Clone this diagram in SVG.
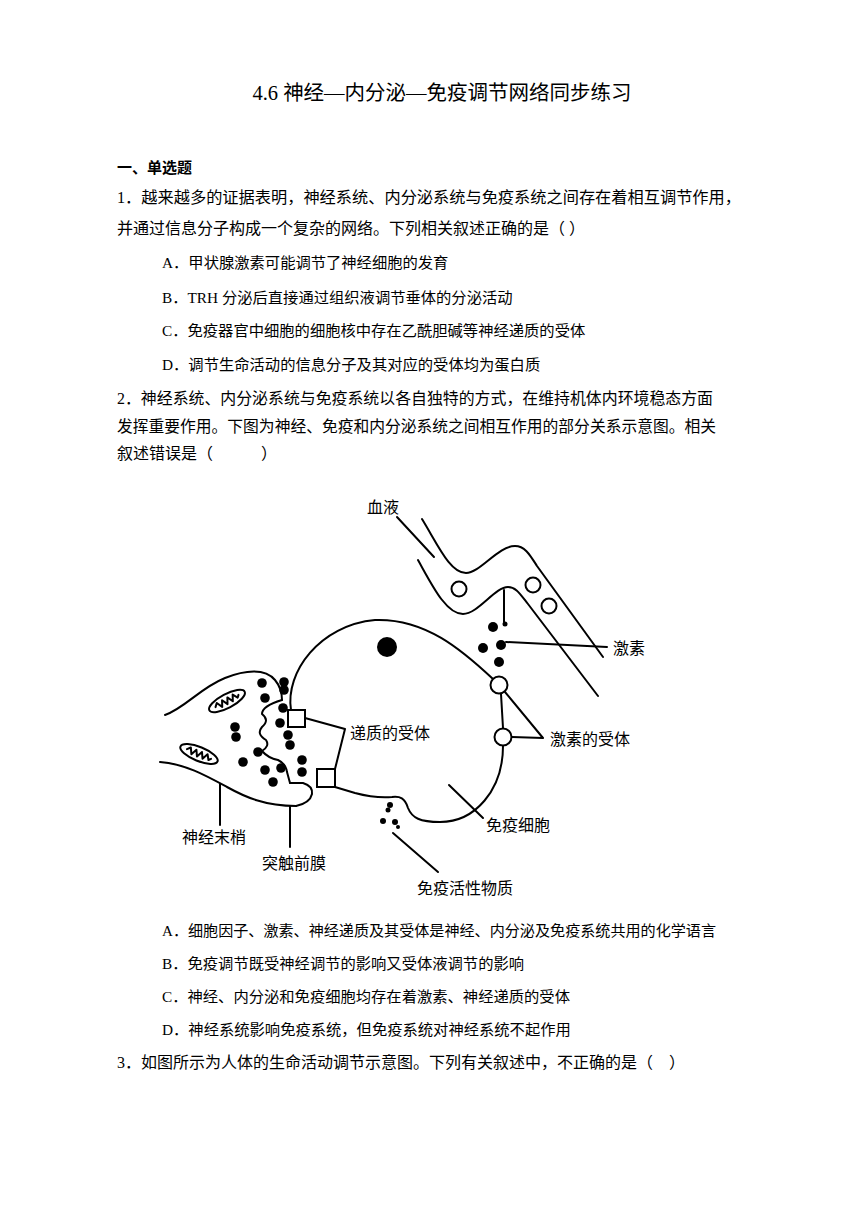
<svg xmlns="http://www.w3.org/2000/svg" width="860" height="1216" viewBox="0 0 860 1216">
<style>
.t{font-family:"Liberation Serif","Noto Sans CJK SC",serif;font-size:16px;fill:#000}
.o{font-family:"Liberation Serif","Noto Sans CJK SC",serif;font-size:15.3px;fill:#000}
.h{font-family:"Noto Sans CJK SC",sans-serif;font-size:15px;font-weight:bold;fill:#000}
.ttl{font-family:"Liberation Serif","Noto Sans CJK SC",serif;font-size:20.5px;fill:#000}
.lb{font-family:"Noto Sans CJK SC",sans-serif;font-size:16px;fill:#000}
.ln{fill:none;stroke:#000;stroke-width:2;stroke-linecap:round;stroke-linejoin:round}
.rc{fill:#fff;stroke:#000;stroke-width:2}
.dt{fill:#000}
</style>
<rect width="860" height="1216" fill="#fff"/>
<g id="text">
<text class="ttl" x="442" y="100" text-anchor="middle">4.6 神经—内分泌—免疫调节网络同步练习</text>
<text class="h" x="117" y="172.5">一、单选题</text>
<text class="t" x="117" y="203" textLength="624" lengthAdjust="spacingAndGlyphs">1．越来越多的证据表明，神经系统、内分泌系统与免疫系统之间存在着相互调节作用，</text>
<text class="t" x="117" y="234">并通过信息分子构成一个复杂的网络。下列相关叙述正确的是（ ）</text>
<text class="o" x="162" y="268">A．甲状腺激素可能调节了神经细胞的发育</text>
<text class="o" x="162" y="302.5">B．TRH 分泌后直接通过组织液调节垂体的分泌活动</text>
<text class="o" x="162" y="336">C．免疫器官中细胞的细胞核中存在乙酰胆碱等神经递质的受体</text>
<text class="o" x="162" y="370">D．调节生命活动的信息分子及其对应的受体均为蛋白质</text>
<text class="t" x="117" y="403.5" textLength="596" lengthAdjust="spacingAndGlyphs">2．神经系统、内分泌系统与免疫系统以各自独特的方式，在维持机体内环境稳态方面</text>
<text class="t" x="117" y="432" textLength="599" lengthAdjust="spacingAndGlyphs">发挥重要作用。下图为神经、免疫和内分泌系统之间相互作用的部分关系示意图。相关</text>
<text class="t" x="117" y="459">叙述错误是（　　　）</text>
<text class="o" x="162" y="935.5" textLength="554" lengthAdjust="spacingAndGlyphs">A．细胞因子、激素、神经递质及其受体是神经、内分泌及免疫系统共用的化学语言</text>
<text class="o" x="162" y="968.5">B．免疫调节既受神经调节的影响又受体液调节的影响</text>
<text class="o" x="162" y="1001.5">C．神经、内分泌和免疫细胞均存在着激素、神经递质的受体</text>
<text class="o" x="162" y="1034.5">D．神经系统影响免疫系统，但免疫系统对神经系统不起作用</text>
<text class="t" x="117" y="1067.5">3．如图所示为人体的生命活动调节示意图。下列有关叙述中，不正确的是（　）</text>
</g>
<g id="blood-vessel">
<path class="ln" d="M422,519 C438,545 450,573 466,573 C480,573 498,546 515,546 C525,546 530,555 537,566 L603,657"/>
<path class="ln" d="M418,560 C432,585 446,614 463,614 C478,614 495,587 508,587 C516,587 520,594 528,604 L598,696"/>
<circle class="rc" cx="459" cy="589" r="7.5"/>
<circle class="rc" cx="533" cy="585" r="7.5"/>
<circle class="rc" cx="549" cy="606" r="7.5"/>
<path class="ln" d="M504,590 L504,622"/>
<circle class="dt" cx="505" cy="624" r="2.5"/>
</g>
<g id="hormone">
<circle class="dt" cx="493" cy="627" r="5"/>
<circle class="dt" cx="483" cy="648" r="5"/>
<circle class="dt" cx="501" cy="645" r="5"/>
<circle class="dt" cx="499" cy="662" r="5"/>
</g>
<g id="immune-cell">
<path class="ln" d="M291,710 C285,672 320,625 375,620 C425,618 462,650 493,679"/>
<path class="ln" d="M501,694 L503,728"/>
<path class="ln" d="M503,746 C503,790 475,822 440,822 C420,822 412,818 408,808 C405,798 400,796 392,797 C380,798 370,797 355,793 L335,787"/>
<circle class="dt" cx="387" cy="647" r="10"/>
<circle class="rc" cx="499" cy="685" r="8.5"/>
<circle class="rc" cx="503" cy="737" r="8.5"/>
<rect class="rc" x="288" y="710" width="17" height="17"/>
<rect class="rc" x="317" y="769" width="18" height="18"/>
</g>
<g id="immune-substance">
<circle class="dt" cx="390" cy="805" r="3"/>
<circle class="dt" cx="388" cy="810" r="2.5"/>
<circle class="dt" cx="383" cy="821" r="3"/>
<circle class="dt" cx="395" cy="822" r="3"/>
<circle class="dt" cx="398" cy="827" r="2"/>
</g>
<g id="nerve-terminal">
<path class="ln" d="M165,715 C185,708 200,688 225,678 C245,670 265,668 275,680 C280,686 282,693 282,700"/>
<path class="ln" d="M282,700 Q262,706 262,714 Q270,720 262,727 Q256,734 266,740 Q270,746 262,751 Q268,758 278,760 Q286,764 287,772 L290,783"/>
<path class="ln" d="M290,783 L303,783 Q313,786 312,794 Q310,803 296,806"/>
<path class="ln" d="M160,762 C185,764 205,775 227,787 C245,797 265,806 296,806"/>
<g transform="translate(227,701) rotate(-28)">
<ellipse class="rc" cx="0" cy="0" rx="20" ry="7"/>
<polyline class="ln" stroke-width="1.6" points="-13,0 -10,-3 -7,3 -4,-3 -1,3 2,-3 5,3 8,-3 11,2 13,0"/>
</g>
<g transform="translate(199,754) rotate(22)">
<ellipse class="rc" cx="0" cy="0" rx="20" ry="7"/>
<polyline class="ln" stroke-width="1.6" points="-13,0 -10,-3 -7,3 -4,-3 -1,3 2,-3 5,3 8,-3 11,2 13,0"/>
</g>
<circle class="dt" cx="262" cy="683" r="4.8"/>
<circle class="dt" cx="265" cy="698" r="4.8"/>
<circle class="dt" cx="284" cy="682" r="4.8"/>
<circle class="dt" cx="284" cy="690" r="4.8"/>
<circle class="dt" cx="283" cy="708" r="4.8"/>
<circle class="dt" cx="280" cy="723" r="4.8"/>
<circle class="dt" cx="288" cy="735" r="4.8"/>
<circle class="dt" cx="290" cy="745" r="4.8"/>
<circle class="dt" cx="235" cy="727" r="4.8"/>
<circle class="dt" cx="236" cy="737" r="4.8"/>
<circle class="dt" cx="258" cy="752" r="4.8"/>
<circle class="dt" cx="243" cy="762" r="4.8"/>
<circle class="dt" cx="265" cy="770" r="4.8"/>
<circle class="dt" cx="281" cy="768" r="4.8"/>
<circle class="dt" cx="302" cy="760" r="4.8"/>
<circle class="dt" cx="302" cy="772" r="4.8"/>
<circle class="dt" cx="273" cy="782" r="4.8"/>
</g>
<g id="connectors">
<path class="ln" d="M397,517 L434,557"/>
<path class="ln" d="M506,642 L607,647"/>
<path class="ln" d="M505,692 L543,738 L512,737"/>
<path class="ln" d="M305,718 L345,729 L335,769"/>
<path class="ln" d="M220,784 L220,825"/>
<path class="ln" d="M290,806 L290,847"/>
<path class="ln" d="M449,785 L483,818"/>
<path class="ln" d="M393,833 L438,872"/>
</g>
<g id="labels">
<text class="lb" x="367" y="513">血液</text>
<text class="lb" x="613" y="654">激素</text>
<text class="lb" x="350" y="739">递质的受体</text>
<text class="lb" x="550" y="745">激素的受体</text>
<text class="lb" x="182" y="843">神经末梢</text>
<text class="lb" x="262" y="869">突触前膜</text>
<text class="lb" x="486" y="831">免疫细胞</text>
<text class="lb" x="417" y="894">免疫活性物质</text>
</g>
</svg>
